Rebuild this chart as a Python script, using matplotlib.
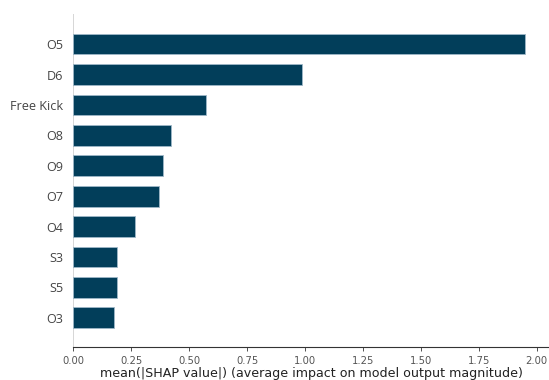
import matplotlib
matplotlib.use("Agg")
import matplotlib.pyplot as plt
import numpy as np

# Mean absolute SHAP value per feature (top to bottom as displayed)
features = ["O5", "D6", "Free Kick", "O8", "O9", "O7", "O4", "S3", "S5", "O3"]
mean_abs_shap = [1.951, 0.986, 0.573, 0.42, 0.387, 0.37, 0.265, 0.19, 0.19, 0.176]

xticks = [0.0, 0.25, 0.5, 0.75, 1.0, 1.25, 1.5, 1.75, 2.0]
xlabel = "mean(|SHAP value|) (average impact on model output magnitude)"

bar_color = "#023e5a"
axis_color = "#444444"

W, H, DPI = 549, 380, 100
fig = plt.figure(figsize=(W / DPI, H / DPI), dpi=DPI)
left_px, right_px, top_px, bottom_px = 73.3, 549, 14, 346.7
ax = fig.add_axes([left_px / W, 1 - bottom_px / H,
                   (right_px - left_px) / W, (bottom_px - top_px) / H])

n = len(features)
y_pos = np.arange(n)[::-1]
ax.barh(y_pos, mean_abs_shap, height=0.68, color=bar_color,
        edgecolor="#9fb8c8", linewidth=0.6, align="center")

ax.set_xlim(0, (right_px - left_px) / 231.7)
ax.set_ylim(-0.95, 9.99)

ax.set_yticks(y_pos)
ax.set_yticklabels(features, fontsize=9.1, family="Open Sans", color=axis_color)
ax.set_xticks(xticks)
ax.set_xticklabels([f"{t:.2f}" for t in xticks], fontsize=7.2, color="#555555")
ax.set_xlabel(xlabel, fontsize=9.1, color="#222222", labelpad=0.5)

for s in ("top", "right", "left"):
    ax.spines[s].set_visible(False)
ax.spines["bottom"].set_color("#333333")
ax.spines["bottom"].set_linewidth(0.8)
ax.axvline(0, color="#d0d0d0", linewidth=1.2, zorder=-1)
ax.tick_params(axis="y", length=0, pad=7)
ax.tick_params(axis="x", color="#333333", length=3, width=0.6, pad=4)

fig.savefig("out.png", dpi=DPI, facecolor="white")
